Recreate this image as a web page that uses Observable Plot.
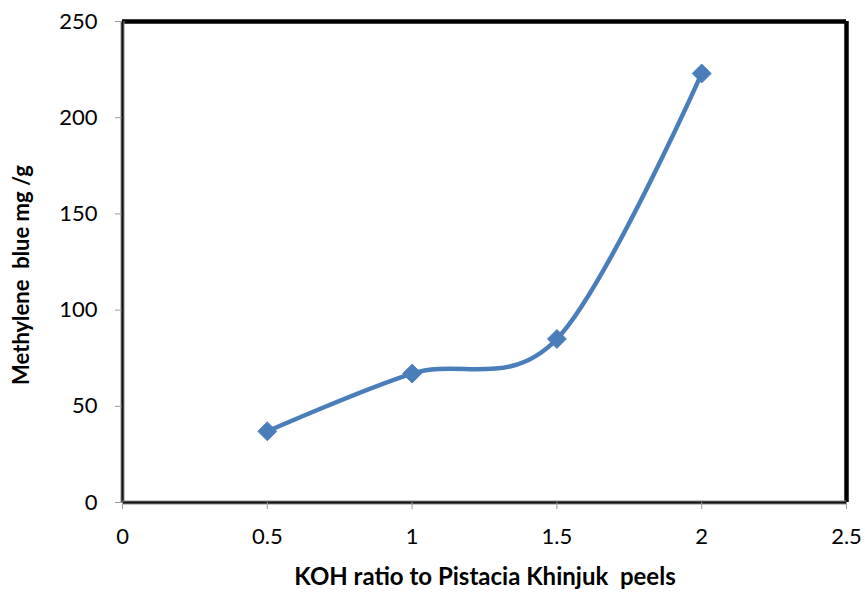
<!DOCTYPE html>
<html>
<head>
<meta charset="utf-8">
<script src="https://cdn.jsdelivr.net/npm/d3@7"></script>
<script src="https://cdn.jsdelivr.net/npm/@observablehq/plot@0.6"></script>
<style>
  html, body { margin: 0; padding: 0; background: #fff; }
  svg { display: block; }
</style>
</head>
<body>
<div id="chart"></div>
<script>
const ratios = [0.5, 1, 1.5, 2];
const capacity = [37, 67, 85, 223];
const xTicks = [0, 0.5, 1, 1.5, 2, 2.5];
const yTicks = [0, 50, 100, 150, 200, 250];
const xLabel = "KOH ratio to Pistacia Khinjuk  peels";
const yLabel = "Methylene  blue mg /g";

const data = ratios.map((r, i) => ({x: r, y: capacity[i]}));
const font = "Lato, 'Open Sans', sans-serif";

const chart = Plot.plot({
  width: 865,
  height: 594,
  marginLeft: 122,
  marginRight: 19,
  marginTop: 21,
  marginBottom: 92,
  style: {fontFamily: font, fontSize: "22px", color: "#000", background: "#fff"},
  x: {domain: [0, 2.5]},
  y: {domain: [0, 250]},
  marks: [
    Plot.ruleY([250], {stroke: "#000", strokeWidth: 4.5}),
    Plot.ruleX([2.5], {stroke: "#000", strokeWidth: 4.5}),
    Plot.ruleX([0], {stroke: "#888", strokeWidth: 4}),
    Plot.ruleX([0], {stroke: "#111", strokeWidth: 2}),
    Plot.ruleY([0], {stroke: "#888", strokeWidth: 4}),
    Plot.ruleY([0], {stroke: "#111", strokeWidth: 2}),
    Plot.axisX({ticks: xTicks, tickFormat: d => String(d), tickSize: 7, stroke: "#999", tickPadding: 19, fontSize: 22, fill: "#000", label: null}),
    Plot.axisY({ticks: yTicks, tickFormat: d => String(d), tickSize: 7, stroke: "#999", tickPadding: 18, fontSize: 22, fill: "#000", label: null}),
    Plot.line(data, {x: "x", y: "y", stroke: "#4A7EBB", strokeWidth: 4.5, curve: "cardinal"}),
    Plot.dot(data, {x: "x", y: "y", symbol: "diamond2", r: 8.5, fill: "#4A7EBB", stroke: "#4A7EBB", strokeWidth: 1})
  ]
});

const svg = d3.select(chart);
svg.append("text")
  .attr("x", 485).attr("y", 585)
  .attr("text-anchor", "middle")
  .attr("font-family", font)
  .attr("font-size", 24).attr("font-weight", "bold")
  .attr("fill", "#000")
  .text(xLabel);
svg.append("text")
  .attr("transform", "translate(29,275) rotate(-90)")
  .attr("text-anchor", "middle")
  .attr("font-family", font)
  .attr("font-size", 22).attr("font-weight", "bold")
  .attr("fill", "#000")
  .text(yLabel);

document.getElementById("chart").appendChild(chart);
</script>
</body>
</html>
